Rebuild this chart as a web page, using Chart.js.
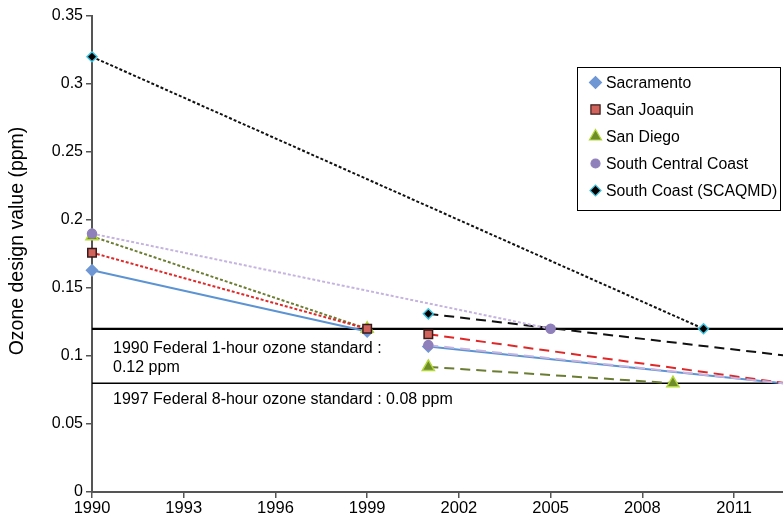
<!DOCTYPE html>
<html>
<head>
<meta charset="utf-8">
<script src="https://cdn.jsdelivr.net/npm/chart.js@4"></script>
<style>
html,body{margin:0;padding:0;background:#fff;}
#wrap{width:783px;height:524px;position:relative;}
</style>
</head>
<body>
<div id="wrap"><canvas id="c" width="783" height="524"></canvas></div>
<script>
// ---- data ----
const regions = ['Sacramento', 'San Joaquin', 'San Diego', 'South Central Coast', 'South Coast (SCAQMD)'];
const oneHourYears  = [[1990, 1999], [1990, 1999], [1990, 1999], [1990, 2005], [1990, 2010]];
const oneHourValues = [[0.163, 0.118], [0.176, 0.12], [0.188, 0.12], [0.19, 0.12], [0.32, 0.12]];
const eightHourYears  = [[2001, 2013], [2001, 2013], [2001, 2009], [2001, 2013], [2001, 2013]];
const eightHourValues = [[0.107, 0.079], [0.116, 0.079], [0.092, 0.08], [0.108, 0.079], [0.131, 0.0995]];
const standardValues = [0.12, 0.08];
const standardLabels = [['1990 Federal 1-hour ozone standard :', '0.12 ppm'], ['1997 Federal 8-hour ozone standard : 0.08 ppm']];
const xTickValues = [1990, 1993, 1996, 1999, 2002, 2005, 2008, 2011];
const yTickValues = [0, 0.05, 0.1, 0.15, 0.2, 0.25, 0.3, 0.35];
const yTitle = 'Ozone design value (ppm)';

// ---- styles ----
const lineColors = ['#5b93d3', '#e02828', '#6b7d33', '#c5b4e0', '#111111'];
const pointFill = ['#6f97d4', '#d0645c', '#6e8c2a', '#8f7fba', '#000000'];
const pointBorder = ['#6f97d4', '#3a1a1a', '#b4d83a', '#8f7fba', '#3cc3e0'];
const pointStyles = ['rectRot', 'rect', 'triangle', 'circle', 'rectRot'];
const pointRadii = [5.5, 6, 7, 4.5, 5];
const legendRadii = [6, 6.5, 7, 4.5, 5.5];
const oneHourDash = [[], [3, 2], [3, 2], [3, 2], [3, 2]];
const eightHourDash = [[], [10, 6], [10, 6], [10, 6], [10, 6]];

const toPts = (xs, ys) => xs.map((x, i) => ({x: x, y: ys[i]}));

const datasets = [];
// draw-order: earlier datasets are drawn on top
const order = [4, 3, 1, 2, 0];
order.forEach(i => {
  datasets.push({
    label: regions[i], clip: false,
    data: toPts(oneHourYears[i], oneHourValues[i]),
    borderColor: lineColors[i], borderWidth: 2, borderDash: oneHourDash[i],
    pointStyle: pointStyles[i], pointRadius: pointRadii[i], pointBackgroundColor: pointFill[i],
    pointBorderColor: pointBorder[i], pointBorderWidth: 1.5, fill: false, tension: 0
  });
});
order.forEach(i => {
  datasets.push({
    label: regions[i] + ' (8-hour)', clip: false,
    data: toPts(eightHourYears[i], eightHourValues[i]),
    borderColor: lineColors[i], borderWidth: 2, borderDash: eightHourDash[i],
    pointStyle: pointStyles[i], pointRadius: pointRadii[i], pointBackgroundColor: pointFill[i],
    pointBorderColor: pointBorder[i], pointBorderWidth: 1.5, fill: false, tension: 0
  });
});
standardValues.forEach((v, k) => {
  datasets.push({
    label: 'standard' + k,
    data: [{x: 1990, y: v}, {x: 2020, y: v}],
    borderColor: '#000', borderWidth: k === 0 ? 2.2 : 1.4, pointRadius: 0, fill: false
  });
});

const FONT = '"Liberation Sans", Arial, Helvetica, sans-serif';

const legendPlugin = {
  id: 'boxLegend',
  afterDraw(chart) {
    const ctx = chart.ctx;
    const x0 = 577.5, y0 = 67.5, w = 203, h = 143;
    ctx.save();
    ctx.fillStyle = '#fff';
    ctx.fillRect(x0, y0, w, h);
    ctx.strokeStyle = '#000';
    ctx.lineWidth = 1;
    ctx.strokeRect(x0, y0, w, h);
    ctx.font = '15.8px ' + FONT;
    ctx.textBaseline = 'middle';
    ctx.fillStyle = '#000';
    regions.forEach((name, i) => {
      const cy = 82.5 + i * 27;
      ctx.save();
      ctx.fillStyle = pointFill[i];
      ctx.strokeStyle = pointBorder[i];
      ctx.lineWidth = 1.2;
      Chart.helpers.drawPoint(ctx, {pointStyle: pointStyles[i], radius: legendRadii[i], rotation: 0, borderWidth: 1.2}, 595.5, cy);
      ctx.restore();
      ctx.fillText(name, 606, cy + 1);
    });
    ctx.restore();
  }
};

const textPlugin = {
  id: 'stdText',
  afterDatasetsDraw(chart) {
    const ctx = chart.ctx;
    const ys = chart.scales.y;
    ctx.save();
    ctx.font = '16px ' + FONT;
    ctx.fillStyle = '#000';
    ctx.textBaseline = 'middle';
    const offs = [[19.5, 39], [16.5]];
    standardLabels.forEach((lines, k) => {
      const base = ys.getPixelForValue(standardValues[k]);
      lines.forEach((t, j) => {
        ctx.fillText(t, 113, base + offs[k][j]);
      });
    });
    // y-axis title
    ctx.translate(18, 241);
    ctx.rotate(-Math.PI / 2);
    ctx.textAlign = 'center';
    ctx.font = '19.5px ' + FONT;
    ctx.fillText(yTitle, 0, 0);
    ctx.restore();
  }
};

new Chart(document.getElementById('c'), {
  type: 'line',
  data: {datasets: datasets},
  plugins: [textPlugin, legendPlugin],
  options: {
    responsive: false,
    animation: false,
    devicePixelRatio: 1,
    layout: {autoPadding: false, padding: {top: 16, right: 0, left: 0, bottom: 0}},
    plugins: {legend: {display: false}, tooltip: {enabled: false}},
    scales: {
      x: {
        type: 'linear', min: 1990, max: 2012.6,
        afterBuildTicks: s => { s.ticks = xTickValues.map(v => ({value: v})); },
        afterFit: s => { s.height = 32; s.paddingRight = 0; s.paddingLeft = 0; },
        grid: {drawOnChartArea: false, tickLength: 6, color: '#555', lineWidth: 1.5},
        border: {color: '#555', width: 2},
        ticks: {color: '#000', font: {size: 16.5, family: FONT}, padding: 1, maxRotation: 0, autoSkip: false,
          callback: v => String(v)}
      },
      y: {
        type: 'linear', min: 0, max: 0.35,
        afterBuildTicks: s => { s.ticks = yTickValues.map(v => ({value: v})); },
        afterFit: s => { s.width = 92; s.paddingTop = 0; s.paddingBottom = 0; },
        grid: {drawOnChartArea: false, tickLength: 6, color: '#555', lineWidth: 1.5},
        border: {color: '#555', width: 2},
        ticks: {color: '#000', font: {size: 16, family: FONT}, padding: 3,
          callback: v => String(Number(v.toFixed(2)))}
      }
    }
  }
});
</script>
</body>
</html>
